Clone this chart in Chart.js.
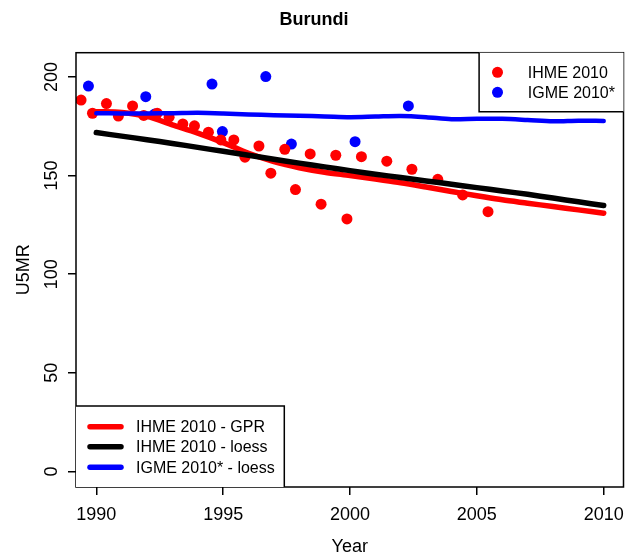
<!DOCTYPE html>
<html><head><meta charset="utf-8">
<script src="https://cdn.jsdelivr.net/npm/chart.js@4"></script>
<style>html,body{margin:0;padding:0;background:#fff}#wrap{width:629px;height:559px}</style>
</head><body><div id="wrap"><canvas id="c" width="629" height="559"></canvas></div>
<script>
const ihmeYears = [1989.40,1989.85,1990.40,1990.87,1991.43,1991.87,1992.40,1992.87,1993.41,1993.87,1994.42,1994.91,1995.42,1995.86,1996.41,1996.88,1997.43,1997.85,1998.43,1998.86,1999.44,1999.88,2000.45,2001.45,2002.44,2003.46,2004.44,2005.44];
const ihmeValues = [188.3,181.6,186.5,180.2,185.3,180.5,181.6,179.6,176.2,175.2,172.0,168.1,168.1,159.3,165.0,151.2,163.3,142.9,161.0,135.5,160.3,128.0,159.6,157.3,153.2,148.1,140.2,131.7];
const igmeYears = [1989.69,1991.95,1992.30,1994.56,1994.97,1996.68,1997.69,2000.20,2002.30];
const igmeValues = [195.4,190.0,181.2,196.4,172.3,200.2,166.0,167.2,185.3];
const fitYears = [1990,1991,1992,1993,1994,1995,1996,1997,1998,1999,2000,2001,2002,2003,2004,2005,2006,2007,2008,2009,2010];
const gprValues = [182.4,182.0,180.0,175.7,171.5,166.7,161.3,157.1,154.0,151.7,150.0,148.2,146.4,144.2,141.9,139.8,137.7,136.0,134.3,132.6,130.9];
const ihmeLoessValues = [171.8,170.0,168.2,166.3,164.3,162.3,160.3,158.3,156.3,154.4,152.5,150.7,149.0,147.3,145.6,143.9,142.2,140.5,138.6,136.7,134.8];
const igmeLoessValues = [181.6,181.5,181.5,181.6,181.8,181.5,181.0,180.6,180.3,180.0,179.6,179.9,180.2,179.6,178.6,178.8,178.8,178.2,177.5,177.8,177.7];
const xTicks = [1990,1995,2000,2005,2010];
const yTicks = [0,50,100,150,200];
const pointLegend = ['IHME 2010','IGME 2010*'];
const lineLegend = ['IHME 2010 - GPR','IHME 2010 - loess','IGME 2010* - loess'];

const FONT = "'Liberation Sans', Arial, sans-serif";
const RED = '#ff0000', BLUE = '#0000ff', BLACK = '#000000';
const pts = (xs, ys) => xs.map((x, i) => ({x, y: ys[i]}));

const framePlugin = {
  id: 'frame',
  afterDraw(chart) {
    const {ctx, chartArea: a} = chart;
    ctx.save();
    ctx.strokeStyle = '#000';
    ctx.lineWidth = 1.5;
    ctx.strokeRect(a.left, a.top, a.right - a.left, a.bottom - a.top);
    ctx.font = '16px ' + FONT;
    ctx.textBaseline = 'middle';
    ctx.textAlign = 'left';
    // top-right legend (points)
    const L = a.right - 144.4, B = a.top + 59;
    ctx.fillStyle = '#fff';
    ctx.fillRect(L, a.top, a.right - L, B - a.top);
    ctx.beginPath();
    ctx.moveTo(L, a.top); ctx.lineTo(L, B); ctx.lineTo(a.right, B);
    ctx.stroke();
    const pcols = [RED, BLUE];
    pointLegend.forEach((t, i) => {
      const y = a.top + 19.6 + i * 20;
      ctx.fillStyle = pcols[i];
      ctx.beginPath(); ctx.arc(L + 18.4, y, 5.5, 0, Math.PI * 2); ctx.fill();
      ctx.fillStyle = '#000';
      ctx.fillText(t, L + 48.7, y + 1);
    });
    // bottom-left legend (lines)
    const R = a.left + 208.3, T = a.bottom - 81;
    ctx.fillStyle = '#fff';
    ctx.fillRect(a.left, T, R - a.left, a.bottom - T);
    ctx.beginPath();
    ctx.moveTo(a.left, T); ctx.lineTo(R, T); ctx.lineTo(R, a.bottom);
    ctx.stroke();
    const lcols = [RED, BLACK, BLUE];
    const lys = [60.3, 40.3, 19.7];
    lineLegend.forEach((t, i) => {
      const y = a.bottom - lys[i];
      ctx.strokeStyle = lcols[i];
      ctx.lineWidth = 5.5;
      ctx.lineCap = 'round';
      ctx.beginPath(); ctx.moveTo(a.left + 14, y); ctx.lineTo(a.left + 45, y); ctx.stroke();
      ctx.fillStyle = '#000';
      ctx.fillText(t, a.left + 60, y + 1);
    });
    ctx.restore();
  }
};

const lineDs = (label, vals, color, w) => ({
  type: 'line', label, data: pts(fitYears, vals), borderColor: color, backgroundColor: color,
  borderWidth: w, pointRadius: 0, borderCapStyle: 'round', borderJoinStyle: 'round',
  tension: 0.3, fill: false, order: 0, showLine: true
});

new Chart(document.getElementById('c'), {
  type: 'scatter',
  data: {
    datasets: [
      {label: pointLegend[0], data: pts(ihmeYears, ihmeValues), backgroundColor: RED, borderWidth: 0, pointRadius: 5.5, order: 1},
      {label: pointLegend[1], data: pts(igmeYears, igmeValues), backgroundColor: BLUE, borderWidth: 0, pointRadius: 5.5, order: 1},
      lineDs(lineLegend[2], igmeLoessValues, BLUE, 4.5),
      lineDs(lineLegend[1], ihmeLoessValues, BLACK, 5.5),
      lineDs(lineLegend[0], gprValues, RED, 5.5)
    ]
  },
  options: {
    responsive: false, animation: false, devicePixelRatio: 1,
    layout: {padding: {left: 0, right: 1, top: 0, bottom: 0}},
    plugins: {
      legend: {display: false},
      tooltip: {enabled: false},
      title: {display: true, text: 'Burundi', color: '#000', font: {family: FONT, size: 18, weight: 'bold'}, padding: {top: 9, bottom: 22.1}}
    },
    scales: {
      x: {
        type: 'linear', min: 1989.2, max: 2010.78,
        afterBuildTicks: s => { s.ticks = xTicks.map(v => ({value: v})); },
        afterFit: s => { s.height = 72; s.paddingLeft = 0; s.paddingRight = 0; },
        grid: {drawOnChartArea: false, drawTicks: true, tickLength: 8, color: '#000', lineWidth: 1.5},
        border: {display: false},
        ticks: {font: {family: FONT, size: 18}, color: '#000', padding: 9, maxRotation: 0, autoSkip: false, callback: v => String(v)},
        title: {display: true, text: 'Year', color: '#000', font: {family: FONT, size: 18}, padding: {top: 0, bottom: 1.5}}
      },
      y: {
        type: 'linear', min: -7.9, max: 212.3,
        afterBuildTicks: s => { s.ticks = yTicks.map(v => ({value: v})); },
        afterFit: s => { s.width = 76; s.paddingTop = 0; s.paddingBottom = 0; },
        grid: {drawOnChartArea: false, drawTicks: true, tickLength: 8, color: '#000', lineWidth: 1.5},
        border: {display: false},
        ticks: {font: {family: FONT, size: 18}, color: '#000', padding: 0.5, minRotation: 90, maxRotation: 90, crossAlign: 'center', autoSkip: false, callback: v => String(v)},
        title: {display: true, text: 'U5MR', color: '#000', font: {family: FONT, size: 18}, padding: {top: 13, bottom: 0}}
      }
    }
  },
  plugins: [framePlugin]
});
</script></body></html>
